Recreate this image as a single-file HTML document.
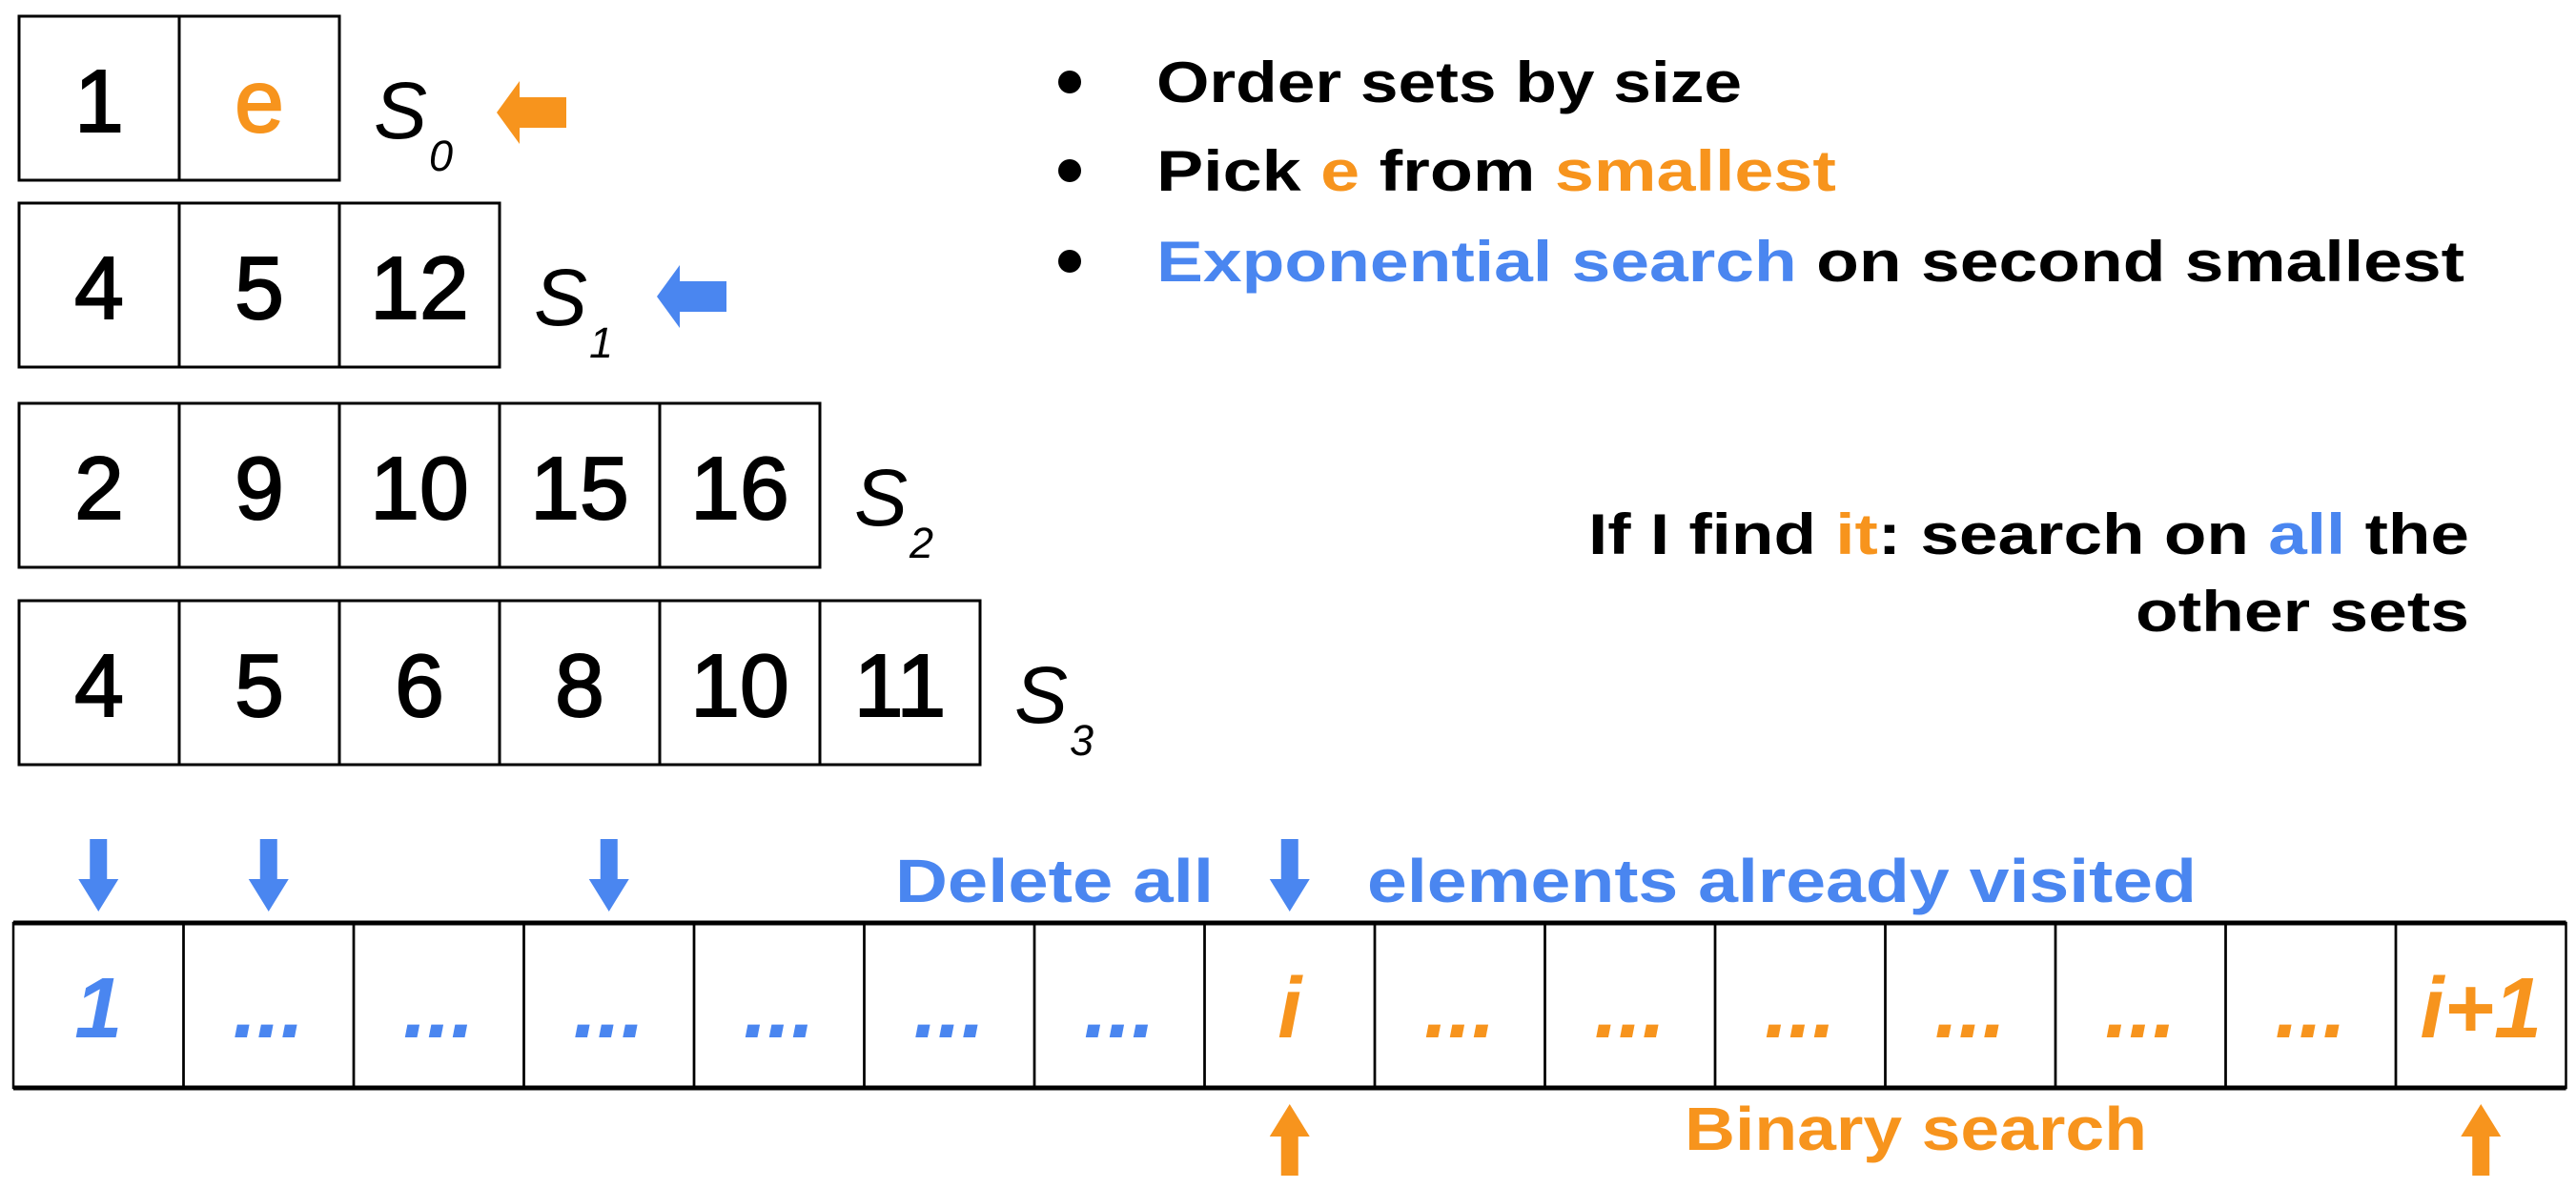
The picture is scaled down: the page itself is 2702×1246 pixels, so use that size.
<!DOCTYPE html>
<html><head><meta charset="utf-8"><style>
html,body{margin:0;padding:0;background:#fff;}
svg{display:block;font-family:"Liberation Sans",sans-serif;}
</style></head><body>
<svg id="c" width="2702" height="1246" viewBox="0 0 2702 1246" xmlns="http://www.w3.org/2000/svg">
<g id="sets"></g>
<g id="right">
  <circle cx="1122" cy="86" r="12" fill="#000"/>
  <circle cx="1122" cy="179" r="12" fill="#000"/>
  <circle cx="1122" cy="274" r="12" fill="#000"/>
  <text x="1213" y="107" font-size="60" font-weight="bold" textLength="614" lengthAdjust="spacingAndGlyphs">Order sets by size</text>
  <text x="1213" y="200" font-size="60" font-weight="bold" textLength="713" lengthAdjust="spacingAndGlyphs">Pick <tspan fill="#f7941d">e</tspan> from <tspan fill="#f7941d">smallest</tspan></text>
  <text x="1213" y="295" font-size="60" font-weight="bold" textLength="1372" lengthAdjust="spacingAndGlyphs"><tspan fill="#4a86f0">Exponential search</tspan> on second smallest</text>
  <text x="1666" y="581" font-size="60" font-weight="bold" textLength="924" lengthAdjust="spacingAndGlyphs">If I find <tspan fill="#f7941d">it</tspan>: search on <tspan fill="#4a86f0">all</tspan> the</text>
  <text x="2240" y="662" font-size="60" font-weight="bold" textLength="350" lengthAdjust="spacingAndGlyphs">other sets</text>
</g>
<g id="bottom"></g>
</svg>
<script>
const setValues = [["1","e"],["4","5","12"],["2","9","10","15","16"],["4","5","6","8","10","11"]];
const setTops = [17,213,423,630];
const arrayLabels = ["1","...","...","...","...","...","...","i","...","...","...","...","...","...","i+1"];
const blueArrowCells = [0,1,3,7];
const orangeArrowCells = [7,14];
const NS="http://www.w3.org/2000/svg";
const BLUE="#4a86f0", ORANGE="#f7941d";
function mk(tag,attrs,parent){const e=document.createElementNS(NS,tag);for(const k in attrs)e.setAttribute(k,attrs[k]);parent.appendChild(e);return e;}
const sets=document.getElementById('sets');
const cw=168, ch=172, x0=20;
setValues.forEach((vals,si)=>{
  const y=setTops[si];
  vals.forEach((v,ci)=>{
    const r=mk('rect',{x:x0+ci*cw,y:y,width:cw,height:ch,fill:'none',stroke:'#000','stroke-width':3},sets);
    
    
    const t=mk('text',{x:x0+ci*cw+cw/2,y:y+121,'font-size':93,'text-anchor':'middle',fill:(v==='e'?ORANGE:'#000'),stroke:(v==='e'?ORANGE:'#000'),'stroke-width':2},sets);
    t.textContent=v;
    
    
  });
  const lx=x0+vals.length*cw+36;
  const s=mk('text',{x:lx,y:y+128,'font-size':84,'font-style':'italic'},sets);
  s.textContent='S';
  
  
  const sub=mk('text',{x:lx+58,y:y+162,'font-size':45,'font-style':'italic'},sets);
  sub.textContent=String(si);
  
  
});
function leftArrow(x,y,color,name){
  const p=mk('polygon',{points:`${x},${y+31} ${x+24},${y-2} ${x+24},${y+15} ${x+73},${y+15} ${x+73},${y+47} ${x+24},${y+47} ${x+24},${y+64}`,fill:color},sets);
  
  
}
leftArrow(521,87,ORANGE,'s0-arrow');
leftArrow(689,280,BLUE,'s1-arrow');
const bottom=document.getElementById('bottom');
const ax0=14, acw=178.5, ay=968, ach=173;
arrayLabels.forEach((lab,i)=>{
  const r=mk('rect',{x:ax0+i*acw,y:ay,width:acw,height:ach,fill:'none',stroke:'#000','stroke-width':2.5},bottom);
  
  
  const col=i<7?BLUE:ORANGE;
  const t=mk('text',{x:ax0+i*acw+acw/2,y:1088,'font-size':90,'font-style':'italic','font-weight':'bold','text-anchor':'middle',fill:col},bottom);
  t.textContent=lab;
  
  
});
mk('line',{x1:ax0,y1:ay,x2:ax0+15*acw,y2:ay,stroke:'#000','stroke-width':5},bottom);
mk('line',{x1:ax0,y1:ay+ach,x2:ax0+15*acw,y2:ay+ach,stroke:'#000','stroke-width':5},bottom);
blueArrowCells.forEach(i=>{
  const cx=ax0+i*acw+acw/2;
  const p=mk('polygon',{points:`${cx-9},880 ${cx+9},880 ${cx+9},922 ${cx+21},922 ${cx},956 ${cx-21},922 ${cx-9},922`,fill:BLUE},bottom);
  
  
});
orangeArrowCells.forEach(i=>{
  const cx=ax0+i*acw+acw/2;
  const p=mk('polygon',{points:`${cx},1158 ${cx+21},1192 ${cx+9},1192 ${cx+9},1233 ${cx-9},1233 ${cx-9},1192 ${cx-21},1192`,fill:ORANGE},bottom);
  
  
});
let t=mk('text',{x:939,y:946,'font-size':64,'font-weight':'bold',fill:BLUE,textLength:334,lengthAdjust:'spacingAndGlyphs'},bottom);
t.textContent='Delete all';


t=mk('text',{x:1434,y:946,'font-size':64,'font-weight':'bold',fill:BLUE,textLength:870,lengthAdjust:'spacingAndGlyphs'},bottom);
t.textContent='elements already visited';


t=mk('text',{x:1767,y:1206,'font-size':64,'font-weight':'bold',fill:ORANGE,textLength:485,lengthAdjust:'spacingAndGlyphs'},bottom);
t.textContent='Binary search';


</script>
</body></html>
